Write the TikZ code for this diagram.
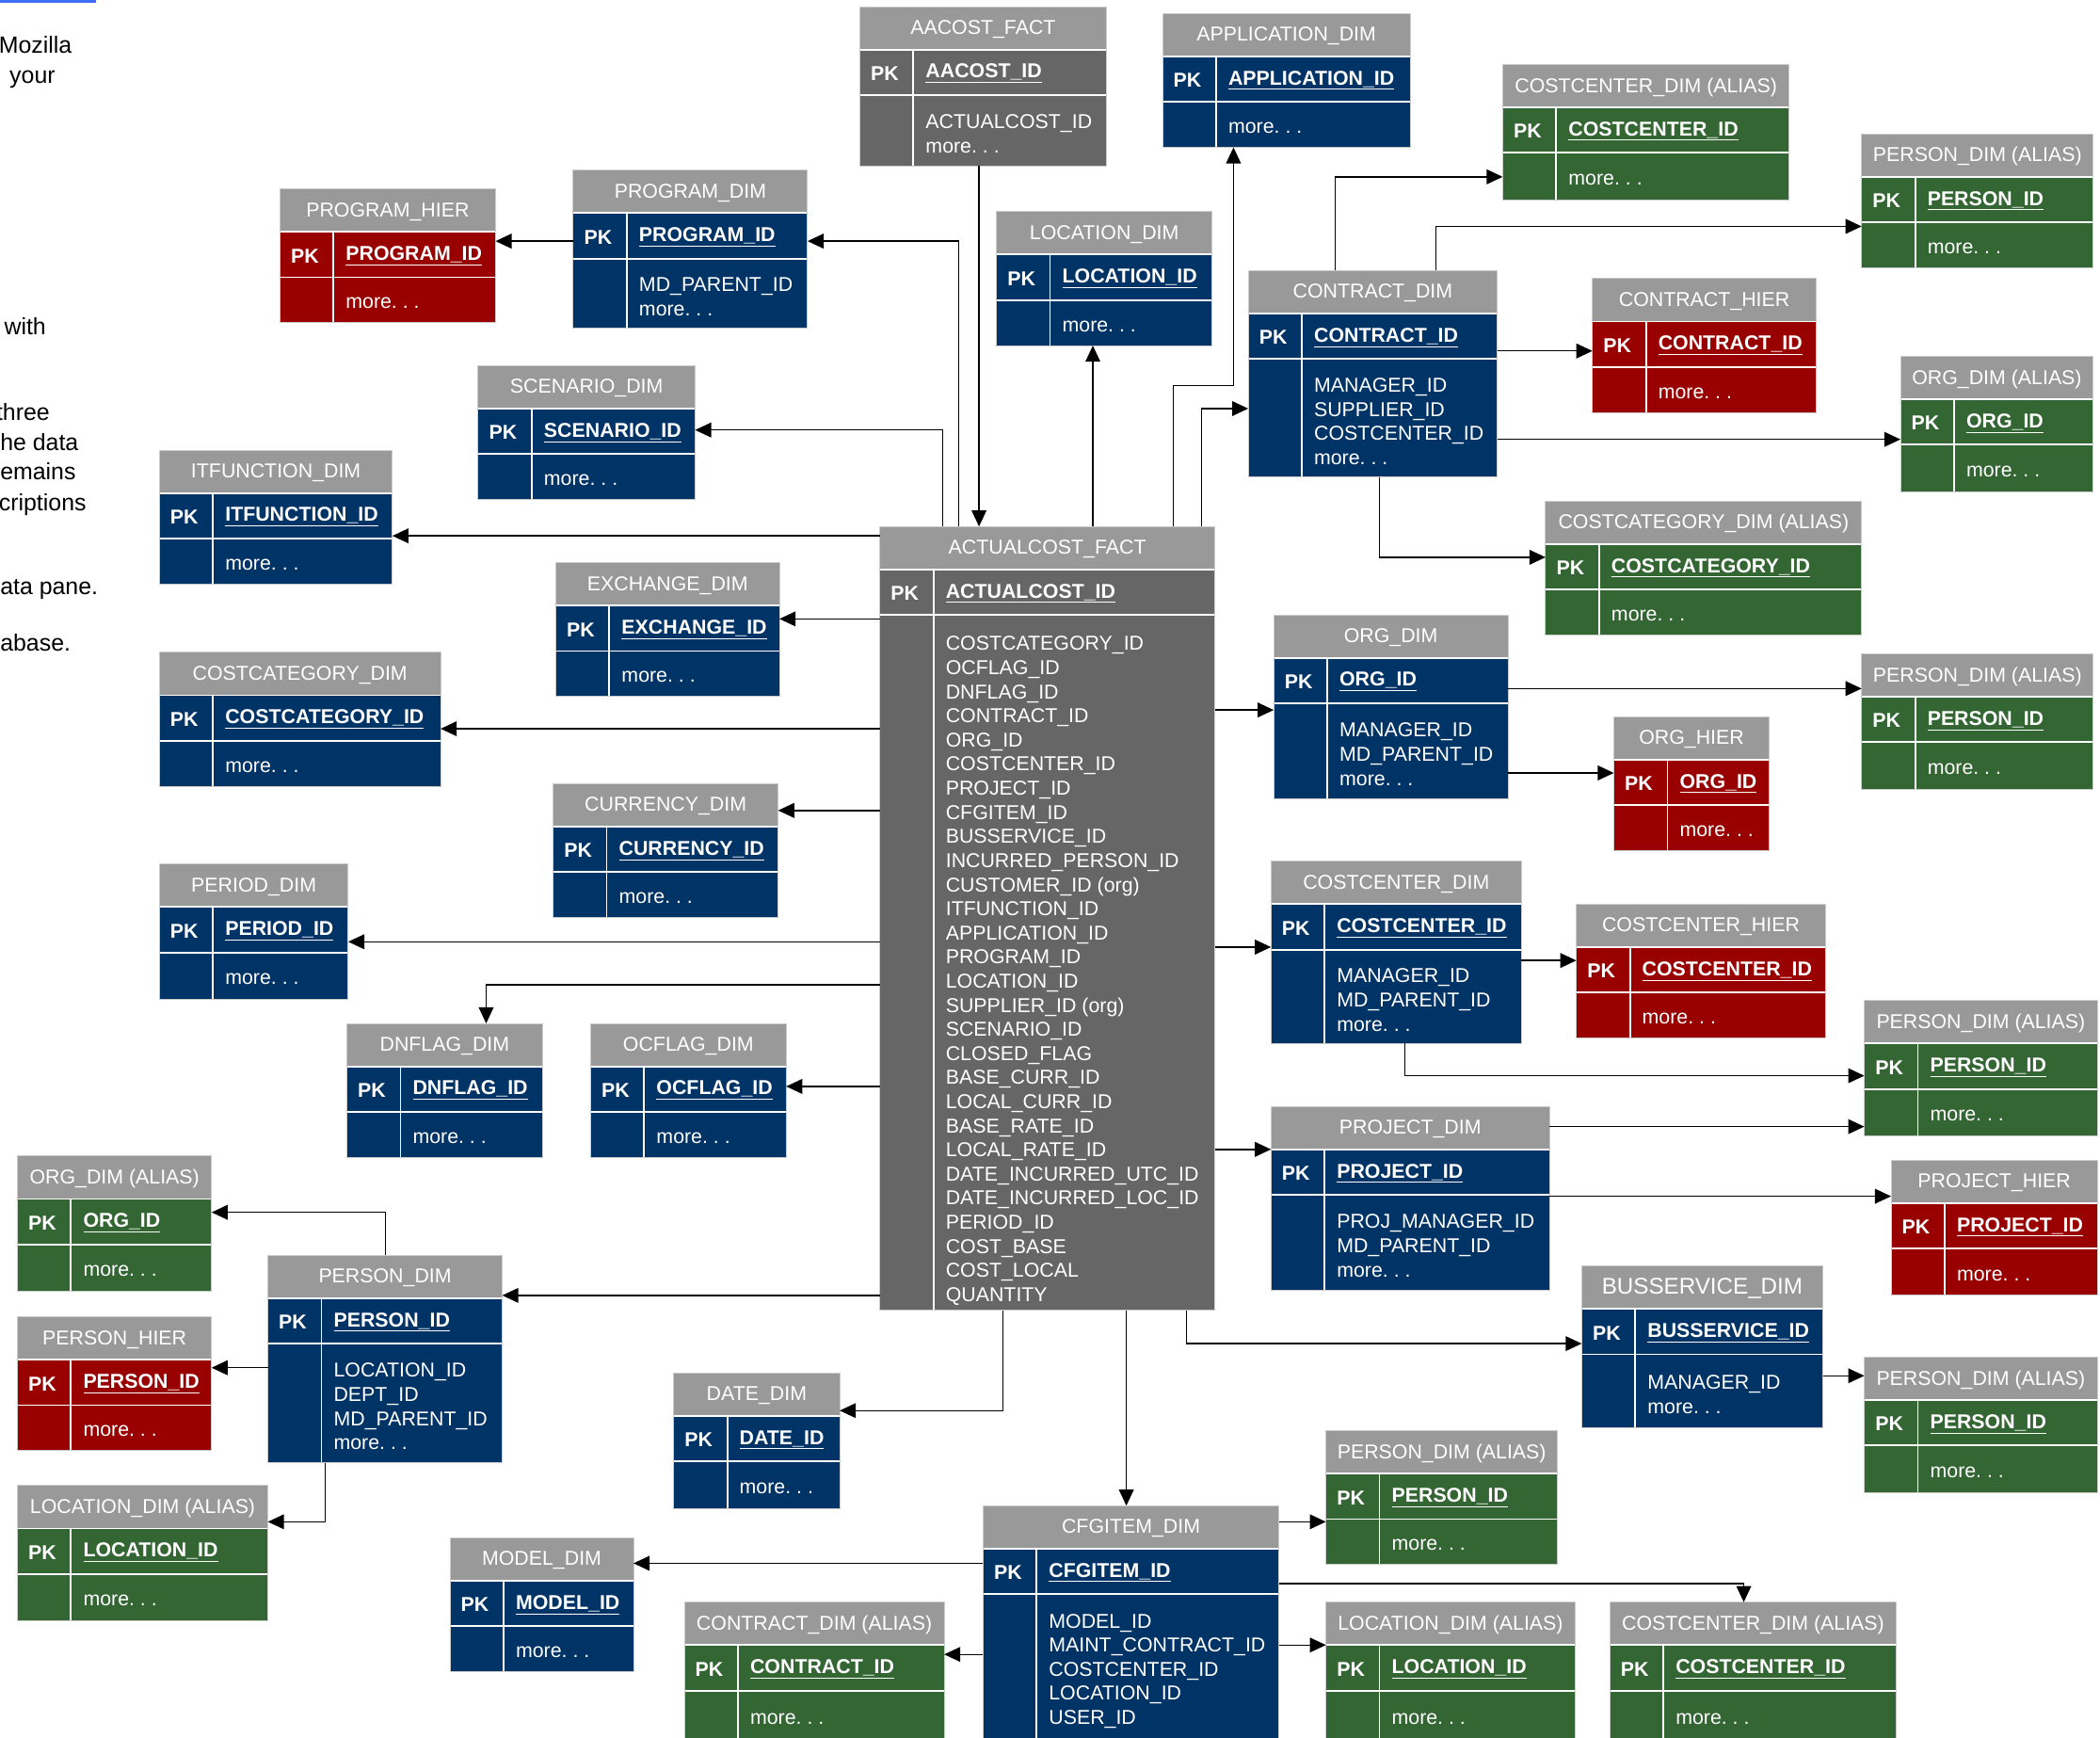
\documentclass[tikz,border=0pt]{standalone}
\usepackage{fontspec}
\setmainfont{Liberation Sans}
\usetikzlibrary{arrows.meta}

\definecolor{hdrgray}{HTML}{999999}
\definecolor{factgray}{HTML}{666666}
\definecolor{dimblue}{HTML}{003366}
\definecolor{hierred}{HTML}{990000}
\definecolor{aliasgreen}{HTML}{336633}
\definecolor{edgegray}{HTML}{CCCCCC}
\definecolor{linkblue}{HTML}{3D6EF5}

\tikzset{
  tabframe/.style={anchor=north west, inner sep=0pt, outer sep=0pt, draw=edgegray, line width=0.7pt},
  cellrule/.style={draw=white, line width=1.3pt},
  titletext/.style={text=white, inner sep=0pt, font=\fontsize{15}{18}\selectfont},
  pktext/.style={text=white, inner sep=0pt, anchor=west, font=\fontsize{15}{18}\selectfont\bfseries},
  keytext/.style={text=white, inner sep=0pt, anchor=west, font=\fontsize{15}{18}\selectfont\bfseries},
  bodytext/.style={text=white, inner sep=0pt, anchor=west, align=left, font=\fontsize{15}{18}\selectfont},
  pagetext/.style={text=black, inner sep=0pt, anchor=base west, font=\fontsize{17.5}{22}\selectfont},
  fk/.style={draw=black, line width=1pt, -{Triangle[length=12pt,width=11pt]}},
}

% \ertab{name}{colour}{left}{right}{top}{bottom}{title}{key}{other columns}
\newcommand\ertab[9]{%
  \fill[#2] (#3,#5+32) rectangle (#4,#6);
  \fill[hdrgray] (#3,#5) rectangle (#4,#5+32);
  \draw[cellrule] (#3,#5+32) -- (#4,#5+32);
  \draw[cellrule] (#3,#5+66) -- (#4,#5+66);
  \draw[cellrule] (#3+40,#5+32) -- (#3+40,#6);
  \node[tabframe, minimum width={(#4-#3)*1pt}, minimum height={(#6-#5)*1pt}] (#1) at (#3,#5) {};
  \node[titletext] (#1-title) at ({(#3+#4)/2},#5+17) {#7};
  \node[pktext] (#1-pk) at (#3+8,#5+50) {PK};
  \node[keytext] (#1-key) at (#3+49,#5+50) {\underline{#8}};
  \node[bodytext] (#1-body) at (#3+49,{(#5+66+#6)/2+2.5}) {#9};
}

\begin{document}
\frenchspacing
\begin{tikzpicture}[x=1pt, y=-1pt]
\useasboundingbox (0,0) rectangle (1568,1297);

% page text showing at the left margin
\draw[linkblue, line width=2pt] (0,1) -- (72,1);
\node[pagetext] (t1) at (-1,40) {Mozilla};
\node[pagetext] (t2) at (7,62) {your};
\node[pagetext] (t3) at (3,250) {with};
\node[pagetext] (t4) at (-3,314) {three};
\node[pagetext] (t5) at (0,336) {he data};
\node[pagetext] (t6) at (0,358) {emains};
\node[pagetext] (t7) at (-1,381) {criptions};
\node[pagetext] (t8) at (0,444) {ata pane.};
\node[pagetext] (t9) at (0,486) {abase.};

% tables
\ertab{aacost}{factgray}{642}{826}{5}{124}{AACOST\_FACT}{AACOST\_ID}{ACTUALCOST\_ID\\more. . .}
\ertab{appl}{dimblue}{868}{1053}{10}{110}{APPLICATION\_DIM}{APPLICATION\_ID}{more. . .}
\ertab{ccalias1}{aliasgreen}{1122}{1336}{48}{149}{COSTCENTER\_DIM (ALIAS)}{COSTCENTER\_ID}{more. . .}
\ertab{persalias1}{aliasgreen}{1390}{1563}{100}{200}{PERSON\_DIM (ALIAS)}{PERSON\_ID}{more. . .}
\ertab{proghier}{hierred}{209}{370}{141}{241}{PROGRAM\_HIER}{PROGRAM\_ID}{more. . .}
\ertab{progdim}{dimblue}{428}{603}{127}{245}{PROGRAM\_DIM}{PROGRAM\_ID}{MD\_PARENT\_ID\\more. . .}
\ertab{locdim}{dimblue}{744}{905}{158}{258}{LOCATION\_DIM}{LOCATION\_ID}{more. . .}
\ertab{contract}{dimblue}{932}{1118}{202}{356}{CONTRACT\_DIM}{CONTRACT\_ID}{MANAGER\_ID\\SUPPLIER\_ID\\COSTCENTER\_ID\\more. . .}
\ertab{conthier}{hierred}{1189}{1356}{208}{308}{CONTRACT\_HIER}{CONTRACT\_ID}{more. . .}
\ertab{orgalias1}{aliasgreen}{1419}{1563}{266}{367}{ORG\_DIM (ALIAS)}{ORG\_ID}{more. . .}
\ertab{scenario}{dimblue}{357}{519}{273}{373}{SCENARIO\_DIM}{SCENARIO\_ID}{more. . .}
\ertab{itfunc}{dimblue}{119}{293}{336}{436}{ITFUNCTION\_DIM}{ITFUNCTION\_ID}{more. . .}
\ertab{ccatalias}{aliasgreen}{1154}{1390}{374}{474}{COSTCATEGORY\_DIM (ALIAS)}{COSTCATEGORY\_ID}{more. . .}
\ertab{fact}{factgray}{657}{907}{393}{978}{ACTUALCOST\_FACT}{ACTUALCOST\_ID}{\mbox{}\\COSTCATEGORY\_ID\\OCFLAG\_ID\\DNFLAG\_ID\\CONTRACT\_ID\\ORG\_ID\\COSTCENTER\_ID\\PROJECT\_ID\\CFGITEM\_ID\\BUSSERVICE\_ID\\INCURRED\_PERSON\_ID\\CUSTOMER\_ID (org)\\ITFUNCTION\_ID\\APPLICATION\_ID\\PROGRAM\_ID\\LOCATION\_ID\\SUPPLIER\_ID (org)\\SCENARIO\_ID\\CLOSED\_FLAG\\BASE\_CURR\_ID\\LOCAL\_CURR\_ID\\BASE\_RATE\_ID\\LOCAL\_RATE\_ID\\DATE\_INCURRED\_UTC\_ID\\DATE\_INCURRED\_LOC\_ID\\PERIOD\_ID\\COST\_BASE\\COST\_LOCAL\\QUANTITY}
\ertab{exchange}{dimblue}{415}{582}{420}{520}{EXCHANGE\_DIM}{EXCHANGE\_ID}{more. . .}
\ertab{orgdim}{dimblue}{951}{1126}{459}{596}{ORG\_DIM}{ORG\_ID}{MANAGER\_ID\\MD\_PARENT\_ID\\more. . .}
\ertab{persalias2}{aliasgreen}{1390}{1563}{488}{589}{PERSON\_DIM (ALIAS)}{PERSON\_ID}{more. . .}
\ertab{costcat}{dimblue}{119}{329}{487}{587}{COSTCATEGORY\_DIM}{COSTCATEGORY\_ID}{more. . .}
\ertab{orghier}{hierred}{1205}{1321}{535}{635}{ORG\_HIER}{ORG\_ID}{more. . .}
\ertab{currency}{dimblue}{413}{581}{585}{685}{CURRENCY\_DIM}{CURRENCY\_ID}{more. . .}
\ertab{period}{dimblue}{119}{260}{645}{746}{PERIOD\_DIM}{PERIOD\_ID}{more. . .}
\ertab{ccdim}{dimblue}{949}{1136}{643}{779}{COSTCENTER\_DIM}{COSTCENTER\_ID}{MANAGER\_ID\\MD\_PARENT\_ID\\more. . .}
\ertab{cchier}{hierred}{1177}{1363}{675}{775}{COSTCENTER\_HIER}{COSTCENTER\_ID}{more. . .}
\ertab{persalias3}{aliasgreen}{1392}{1566}{747}{848}{PERSON\_DIM (ALIAS)}{PERSON\_ID}{more. . .}
\ertab{dnflag}{dimblue}{259}{405}{764}{864}{DNFLAG\_DIM}{DNFLAG\_ID}{more. . .}
\ertab{ocflag}{dimblue}{441}{587}{764}{864}{OCFLAG\_DIM}{OCFLAG\_ID}{more. . .}
\ertab{project}{dimblue}{949}{1157}{826}{963}{PROJECT\_DIM}{PROJECT\_ID}{PROJ\_MANAGER\_ID\\MD\_PARENT\_ID\\more. . .}
\ertab{projhier}{hierred}{1412}{1566}{866}{967}{PROJECT\_HIER}{PROJECT\_ID}{more. . .}
\ertab{orgalias2}{aliasgreen}{13}{158}{863}{964}{ORG\_DIM (ALIAS)}{ORG\_ID}{more. . .}
\ertab{person}{dimblue}{200}{375}{937}{1092}{PERSON\_DIM}{PERSON\_ID}{LOCATION\_ID\\DEPT\_ID\\MD\_PARENT\_ID\\more. . .}
\ertab{busservice}{dimblue}{1181}{1361}{945}{1066}{{\fontsize{17}{20}\selectfont BUSSERVICE\_DIM}}{BUSSERVICE\_ID}{MANAGER\_ID\\more. . .}
\ertab{pershier}{hierred}{13}{158}{983}{1083}{PERSON\_HIER}{PERSON\_ID}{more. . .}
\ertab{persalias4}{aliasgreen}{1392}{1566}{1013}{1114}{PERSON\_DIM (ALIAS)}{PERSON\_ID}{more. . .}
\ertab{datedim}{dimblue}{503}{627}{1025}{1126}{DATE\_DIM}{DATE\_ID}{more. . .}
\ertab{persalias5}{aliasgreen}{990}{1163}{1068}{1168}{PERSON\_DIM (ALIAS)}{PERSON\_ID}{more. . .}
\ertab{localias1}{aliasgreen}{13}{200}{1109}{1210}{LOCATION\_DIM (ALIAS)}{LOCATION\_ID}{more. . .}
\ertab{cfgitem}{dimblue}{734}{955}{1124}{1300}{CFGITEM\_DIM}{CFGITEM\_ID}{MODEL\_ID\\MAINT\_CONTRACT\_ID\\COSTCENTER\_ID\\LOCATION\_ID\\USER\_ID}
\ertab{model}{dimblue}{336}{473}{1148}{1248}{MODEL\_DIM}{MODEL\_ID}{more. . .}
\ertab{contalias}{aliasgreen}{511}{705}{1196}{1300}{CONTRACT\_DIM (ALIAS)}{CONTRACT\_ID}{more. . .}
\ertab{localias2}{aliasgreen}{990}{1176}{1196}{1300}{LOCATION\_DIM (ALIAS)}{LOCATION\_ID}{more. . .}
\ertab{ccalias2}{aliasgreen}{1202}{1416}{1196}{1300}{COSTCENTER\_DIM (ALIAS)}{COSTCENTER\_ID}{more. . .}

% foreign keys of the fact tables
\draw[fk] (aacost.south -| 731,0) -- (fact.north -| 731,0);
\draw[fk] (fact.north -| 704,0) |- (scenario.east |- 0,321);
\draw[fk] (fact.north -| 716,0) |- (progdim.east |- 0,180);
\draw[fk] (fact.north -| 816,0) -- (locdim.south -| 816,0);
\draw[fk] (fact.north -| 876,0) |- (921,288) -- (appl.south -| 921,0);
\draw[fk] (fact.north -| 897,0) |- (contract.west |- 0,305);
\draw[fk] (fact.west |- 0,400) -- (itfunc.east |- 0,400);
\draw[fk] (fact.west |- 0,462) -- (exchange.east |- 0,462);
\draw[fk] (fact.west |- 0,544) -- (costcat.east |- 0,544);
\draw[fk] (fact.west |- 0,605) -- (currency.east |- 0,605);
\draw[fk] (fact.west |- 0,703) -- (period.east |- 0,703);
\draw[fk] (fact.west |- 0,735) -| (dnflag.north -| 363,0);
\draw[fk] (fact.west |- 0,811) -- (ocflag.east |- 0,811);
\draw[fk] (fact.west |- 0,967) -- (person.east |- 0,967);
\draw[fk] (fact.east |- 0,530) -- (orgdim.west |- 0,530);
\draw[fk] (fact.east |- 0,707) -- (ccdim.west |- 0,707);
\draw[fk] (fact.east |- 0,858) -- (project.west |- 0,858);
\draw[fk] (fact.south -| 749,0) |- (datedim.east |- 0,1053);
\draw[fk] (fact.south -| 841,0) -- (cfgitem.north -| 841,0);
\draw[fk] (fact.south -| 886,0) |- (busservice.west |- 0,1003);

% foreign keys of the dimensions
\draw[fk] (progdim.west |- 0,180) -- (proghier.east |- 0,180);
\draw[fk] (contract.north -| 997,0) |- (ccalias1.west |- 0,132);
\draw[fk] (contract.north -| 1072,0) |- (persalias1.west |- 0,169);
\draw[fk] (contract.east |- 0,262) -- (conthier.west |- 0,262);
\draw[fk] (contract.east |- 0,328) -- (orgalias1.west |- 0,328);
\draw[fk] (contract.south -| 1030,0) |- (ccatalias.west |- 0,416);
\draw[fk] (orgdim.east |- 0,514) -- (persalias2.west |- 0,514);
\draw[fk] (orgdim.east |- 0,577) -- (orghier.west |- 0,577);
\draw[fk] (ccdim.east |- 0,717) -- (cchier.west |- 0,717);
\draw[fk] (ccdim.south -| 1049,0) |- (persalias3.west |- 0,803);
\draw[fk] (project.east |- 0,841) -- (persalias3.west |- 0,841);
\draw[fk] (project.east |- 0,893) -- (projhier.west |- 0,893);
\draw[fk] (busservice.east |- 0,1027) -- (persalias4.west |- 0,1027);
\draw[fk] (person.north -| 288,0) |- (orgalias2.east |- 0,905);
\draw[fk] (person.west |- 0,1021) -- (pershier.east |- 0,1021);
\draw[fk] (person.south -| 243,0) |- (localias1.east |- 0,1136);
\draw[fk] (cfgitem.west |- 0,1167) -- (model.east |- 0,1167);
\draw[fk] (cfgitem.east |- 0,1136) -- (persalias5.west |- 0,1136);
\draw[fk] (cfgitem.east |- 0,1182) -| (ccalias2.north -| 1302,0);
\draw[fk] (cfgitem.west |- 0,1235) -- (contalias.east |- 0,1235);
\draw[fk] (cfgitem.east |- 0,1228) -- (localias2.west |- 0,1228);
\end{tikzpicture}
\end{document}
